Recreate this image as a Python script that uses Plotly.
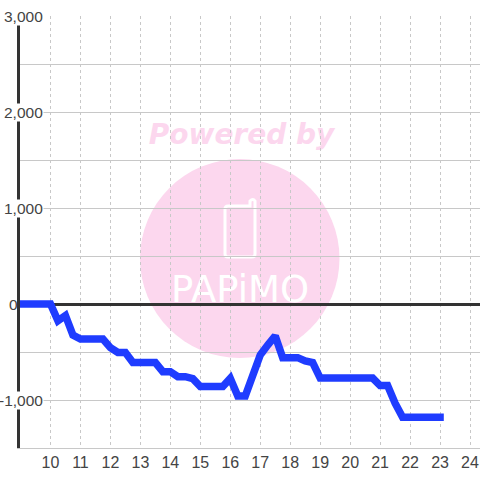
import plotly.graph_objects as go

hours = [9, 9.25, 9.5, 9.75, 10, 10.25, 10.5, 10.75, 11, 11.25, 11.5, 11.75, 12, 12.25, 12.5, 12.75,
         13, 13.25, 13.5, 13.75, 14, 14.25, 14.5, 14.75, 15, 15.25, 15.5, 15.75, 16, 16.25, 16.5, 16.75,
         17, 17.25, 17.5, 17.75, 18, 18.25, 18.5, 18.75, 19, 19.25, 19.5, 19.75, 20, 20.25, 20.5, 20.75,
         21, 21.25, 21.5, 21.75, 22, 22.25, 22.5, 22.75, 23]
balance = [0, 0, 0, 0, 0, -175, -120, -323, -365, -365, -365, -365, -455, -505, -505, -610,
           -610, -610, -610, -705, -705, -757, -757, -778, -860, -860, -860, -860, -775, -958, -958, -740,
           -531, -427, -333, -559, -559, -559, -594, -610, -771, -771, -771, -771, -771, -771, -771, -771,
           -850, -850, -1033, -1180, -1180, -1180, -1180, -1180, -1180]
x_ticks = list(range(10, 25))
y_labels = {3000: "3,000", 2000: "2,000", 1000: "1,000", 0: "0", -1000: "-1,000"}
y_grid = list(range(-1500, 3001, 500))

PINK = "#fcd7ee"
W, H = 480, 480
L, R, T, B = 20, 0, 16, 32


def px(v):
    return (v - L) / (W - L - R)


def py(v):
    return (H - B - v) / (H - T - B)


shapes = [
    dict(type="circle", xref="paper", yref="paper", layer="below", x0=px(140), x1=px(339.5), y0=py(358), y1=py(159),
         fillcolor=PINK, line_width=0),
    dict(type="path", xref="paper", yref="paper", layer="below",
         path=f"M {px(228)} {py(206)} L {px(250)} {py(206)} L {px(250)} {py(201)} Q {px(253)} {py(198)} {px(255)} {py(201)} "
              f"L {px(255)} {py(254)} Q {px(255)} {py(257)} {px(252)} {py(257)} L {px(228)} {py(257)} "
              f"Q {px(225)} {py(257)} {px(225)} {py(254)} L {px(225)} {py(209)} Q {px(225)} {py(206)} {px(228)} {py(206)} Z",
         fillcolor="rgba(0,0,0,0)", line=dict(color="white", width=3)),
    dict(type="rect", xref="paper", yref="paper", layer="below", x0=px(140), x1=px(343), y0=py(148), y1=py(116),
         fillcolor="rgba(0,0,0,0)", line_width=0,
         label=dict(text="Powered by", textposition="middle center",
                    font=dict(family="DejaVu Sans", size=28, color=PINK, weight="bold", style="italic"))),
    dict(type="rect", xref="paper", yref="paper", layer="below", x0=px(165), x1=px(315), y0=py(304), y1=py(268),
         fillcolor="rgba(0,0,0,0)", line_width=0,
         label=dict(text="PAPiMO", textposition="middle center",
                    font=dict(family="DejaVu Sans", size=37, color="white"))),
]

annotations = []
for value, text in y_labels.items():
    annotations.append(dict(x=0.052 if value else 0, y=value, xref="paper", yref="y", text=text,
                            xanchor="right" if value else "left", yanchor="middle", showarrow=False,
                            xshift=0 if value else -12,
                            font=dict(family="Liberation Sans", size=15.5, color="#444444"),
                            bgcolor="white" if value else "rgba(0,0,0,0)", borderpad=0))

fig = go.Figure(go.Scatter(x=hours, y=balance, mode="lines", cliponaxis=False,
                           line=dict(color="#1f3cff", width=7.5, shape="linear"), hoverinfo="skip"))
fig.update_layout(
    width=W, height=H, margin=dict(l=L, r=R, t=T, b=B, pad=0), autosize=False,
    paper_bgcolor="white", plot_bgcolor="rgba(0,0,0,0)", showlegend=False,
    shapes=shapes, annotations=annotations,
    xaxis=dict(range=[9 - 0.5 / 30, 9 + 460 / 30], tickmode="array", tickvals=x_ticks,
               ticktext=[str(t) for t in x_ticks], ticks="", showgrid=True,
               gridcolor="#c8c8c8", griddash="dot", gridwidth=1, zeroline=False,
               showline=True, linecolor="#c8c8c8", linewidth=1,
               tickfont=dict(family="Liberation Sans", size=16, color="#444444")),
    yaxis=dict(range=[-1500, 3000], tickmode="array", tickvals=y_grid, showticklabels=False, ticks="",
               showgrid=True, gridcolor="#c8c8c8", gridwidth=1,
               zeroline=True, zerolinecolor="#333333", zerolinewidth=3,
               showline=True, linecolor="#333333", linewidth=3),
)
fig.write_html("out.html", config={"displayModeBar": False},
               post_script="document.body.style.margin='0';document.querySelectorAll('.js-line').forEach(function(e){e.style.strokeLinecap='square';e.style.strokeLinejoin='miter';e.style.strokeMiterlimit='2';});")
